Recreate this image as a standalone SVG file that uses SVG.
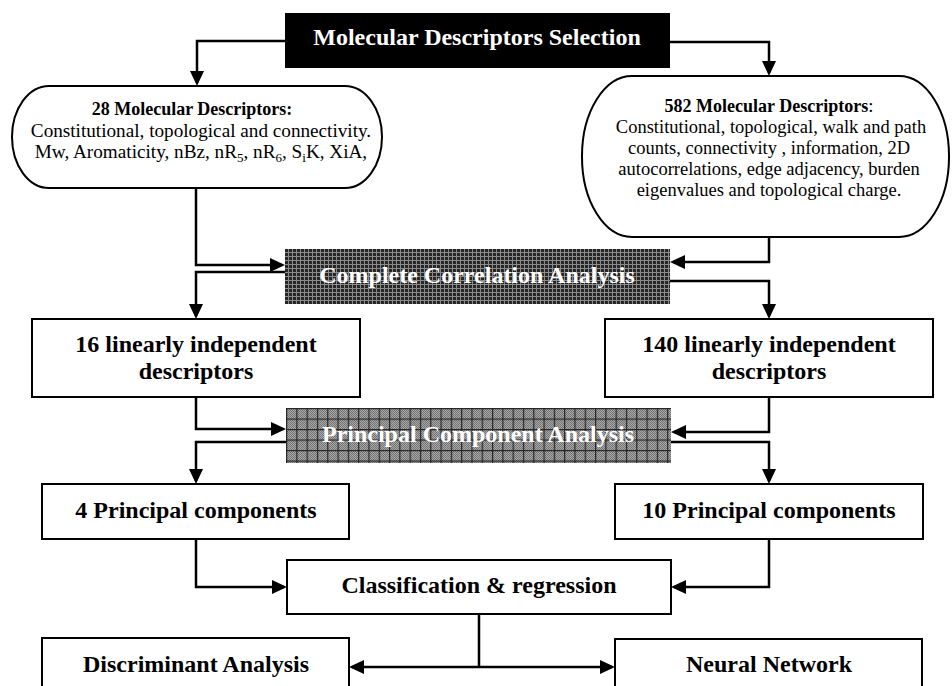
<svg xmlns="http://www.w3.org/2000/svg" width="952" height="686" viewBox="0 0 952 686">
  <defs>
    <style>
      .box { fill: #ffffff; stroke: #000000; stroke-width: 2; }
      .head { font-family: "Liberation Serif", "Times New Roman", serif; font-weight: bold; font-size: 24px; text-anchor: middle; fill: #000000; }
      .headw { font-family: "Liberation Serif", "Times New Roman", serif; font-weight: bold; font-size: 24px; text-anchor: middle; fill: #ffffff; }
      .desc { font-family: "Liberation Serif", "Times New Roman", serif; font-size: 18.5px; text-anchor: middle; fill: #000000; }
      .descl { font-family: "Liberation Serif", "Times New Roman", serif; font-size: 19.2px; text-anchor: middle; fill: #000000; }
      .descb { font-family: "Liberation Serif", "Times New Roman", serif; font-size: 18px; font-weight: bold; text-anchor: middle; fill: #000000; }
      .conn { fill: none; stroke: #000000; stroke-width: 2.5; marker-end: url(#arrow); }
      .line { fill: none; stroke: #000000; stroke-width: 2.5; }
    </style>
    <marker id="arrow" markerUnits="userSpaceOnUse" markerWidth="16" markerHeight="15" refX="12" refY="7" orient="auto">
      <path d="M0,0 L15,7 L0,14 Z" fill="#000000"/>
    </marker>
    <pattern id="darkGrid" patternUnits="userSpaceOnUse" width="4" height="4">
      <rect width="4" height="4" fill="#262626"/>
      <rect width="1" height="4" fill="#8c8c8c"/>
      <rect width="4" height="1" fill="#8c8c8c"/>
    </pattern>
    <pattern id="checker" patternUnits="userSpaceOnUse" width="2" height="2">
      <rect width="2" height="2" fill="#a8a8a8"/>
      <rect width="1" height="1" fill="#747474"/>
      <rect x="1" y="1" width="1" height="1" fill="#747474"/>
    </pattern>
    <pattern id="grid10" patternUnits="userSpaceOnUse" width="10.3" height="10.5" x="286" y="408">
      <rect width="1.2" height="10.5" fill="#262626"/>
      <rect width="10.3" height="1.2" fill="#262626"/>
    </pattern>
  </defs>

  <g id="connectors">
    <path class="conn" d="M285,41 H197 V83"/>
    <path class="conn" d="M670,42 H769 V73"/>
    <path class="conn" d="M196,188 V265 H282"/>
    <path class="conn" d="M285,272 H196 V316"/>
    <path class="conn" d="M769,237 V262 H673"/>
    <path class="conn" d="M670,281 H769 V316"/>
    <path class="conn" d="M196,397 V429 H283"/>
    <path class="conn" d="M286,442 H196 V481"/>
    <path class="conn" d="M769,397 V432 H674"/>
    <path class="conn" d="M671,442 H769 V481"/>
    <path class="conn" d="M196,539 V587 H284"/>
    <path class="conn" d="M769,539 V587 H674"/>
    <path class="line" d="M479,614 V667"/>
    <path class="conn" d="M479,667 H352"/>
    <path class="conn" d="M479,667 H612"/>
  </g>

  <g id="selection">
    <rect x="285" y="13" width="385" height="55" fill="#000000"/>
    <text class="headw" x="477" y="45">Molecular Descriptors Selection</text>
  </g>

  <g id="md28">
    <rect class="box" x="12" y="86" width="370" height="102" rx="37" ry="51"/>
    <text class="descb" x="192" y="115">28 Molecular Descriptors:</text>
    <text class="descl" x="201" y="137">Constitutional, topological and connectivity.</text>
    <text class="descl" x="201" y="158">Mw, Aromaticity, nBz, nR<tspan font-size="13" dy="4">5</tspan><tspan dy="-4">, nR</tspan><tspan font-size="13" dy="4">6</tspan><tspan dy="-4">, S</tspan><tspan font-size="13" dy="4">i</tspan><tspan dy="-4">K, XiA,</tspan></text>
  </g>

  <g id="md582">
    <rect class="box" x="582" y="76" width="367" height="161" rx="50" ry="80"/>
    <text class="desc" x="769" y="112"><tspan font-weight="bold" font-size="18px">582 Molecular Descriptors</tspan>:</text>
    <text class="desc" x="771" y="133">Constitutional, topological, walk and path</text>
    <text class="desc" x="769" y="154">counts, connectivity , information, 2D</text>
    <text class="desc" x="769" y="175">autocorrelations, edge adjacency, burden</text>
    <text class="desc" x="769" y="196">eigenvalues and topological charge.</text>
  </g>

  <g id="cca">
    <rect x="285" y="249" width="385" height="55" fill="url(#darkGrid)"/>
    <text class="headw" x="477" y="283">Complete Correlation Analysis</text>
  </g>

  <g id="li16">
    <rect class="box" x="32" y="319" width="328" height="78"/>
    <text class="head" x="196" y="352">16 linearly independent</text>
    <text class="head" x="196" y="379">descriptors</text>
  </g>

  <g id="li140">
    <rect class="box" x="605" y="319" width="328" height="78"/>
    <text class="head" x="769" y="352">140 linearly independent</text>
    <text class="head" x="769" y="379">descriptors</text>
  </g>

  <g id="pca">
    <rect x="286" y="408" width="385" height="55" fill="url(#checker)"/>
    <rect x="286" y="408" width="385" height="55" fill="url(#grid10)"/>
    <text class="headw" x="478" y="442">Principal Component Analysis</text>
  </g>

  <g id="pc4">
    <rect class="box" x="42" y="484" width="307" height="55"/>
    <text class="head" x="196" y="518">4 Principal components</text>
  </g>

  <g id="pc10">
    <rect class="box" x="615" y="484" width="308" height="55"/>
    <text class="head" x="769" y="518">10 Principal components</text>
  </g>

  <g id="classification">
    <rect class="box" x="287" y="560" width="384" height="54"/>
    <text class="head" x="479" y="593">Classification &amp; regression</text>
  </g>

  <g id="discriminant">
    <rect class="box" x="42" y="638" width="307" height="60"/>
    <text class="head" x="196" y="672">Discriminant Analysis</text>
  </g>

  <g id="neural">
    <rect class="box" x="615" y="639" width="307" height="60"/>
    <text class="head" x="769" y="672">Neural Network</text>
  </g>
</svg>
